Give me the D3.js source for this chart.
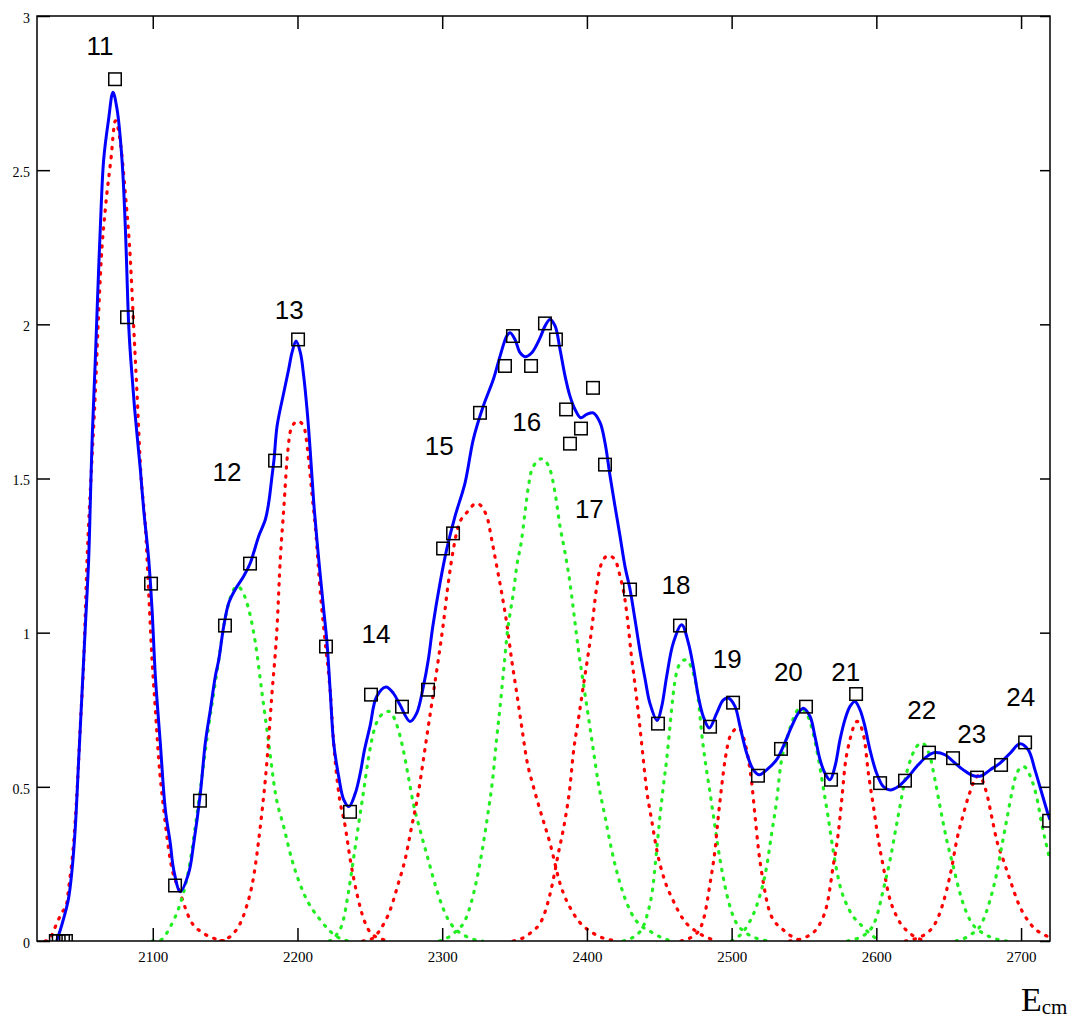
<!DOCTYPE html>
<html>
<head>
<meta charset="utf-8">
<script src="https://cdn.jsdelivr.net/npm/d3@7"></script>
<style>
  html, body { margin: 0; padding: 0; background: #fff; }
  svg { display: block; }
</style>
</head>
<body>
<div id="chart"></div>
<script>
// ---------------- data ----------------
const xTicks = [2100, 2200, 2300, 2400, 2500, 2600, 2700];
const yTicks = [0, 0.5, 1, 1.5, 2, 2.5, 3];
const yTickLabels = ["0", "0.5", "1", "1.5", "2", "2.5", "3"];
const xLabel = "E";
const xLabelSub = "cm";

// measured points (squares)
const dataE = [2033, 2035, 2038, 2040, 2073.9, 2082.2, 2098.8, 2115.4, 2132.6, 2149.9, 2167.2, 2184.5, 2200.4, 2219.7, 2236.3, 2250.8, 2272.2, 2290.2, 2300.6, 2307.5, 2326.1, 2343.4, 2348.9, 2361.4, 2371.0, 2378.6, 2385.6, 2388.3, 2395.9, 2404.2, 2412.5, 2429.8, 2449.1, 2464.3, 2485.1, 2501.0, 2518.2, 2534.1, 2551.4, 2568.7, 2586.0, 2602.6, 2619.8, 2636.4, 2653.0, 2669.6, 2686.2, 2702.8, 2719.4];
const dataV = [0, 0, 0, 0, 2.795, 2.023, 1.159, 0.18, 0.455, 1.023, 1.224, 1.558, 1.951, 0.955, 0.419, 0.799, 0.760, 0.815, 1.273, 1.322, 1.713, 1.865, 1.962, 1.865, 2.003, 1.951, 1.724, 1.613, 1.662, 1.794, 1.545, 1.14, 0.705, 1.023, 0.695, 0.773, 0.536, 0.623, 0.760, 0.523, 0.801, 0.512, 0.52, 0.611, 0.593, 0.53, 0.571, 0.644, 0.39];

// total fit (blue)
const totalFit = [
  [2033.6,0],[2037,0.05],[2041.6,0.133],[2044.2,0.23],[2046.5,0.371],[2048.8,0.588],[2051.1,0.804],[2053.4,1.02],[2055.7,1.237],[2057,1.45],[2058.2,1.64],[2060.3,1.886],[2062,2.104],[2063.8,2.319],[2066.1,2.536],[2069.5,2.666],[2072.5,2.753],[2075.3,2.698],[2078.7,2.536],[2081,2.319],[2083.4,1.994],[2084.8,1.886],[2087.5,1.724],[2091.4,1.53],[2093.7,1.4],[2097.2,1.237],[2099.5,1.075],[2101.8,0.858],[2105.2,0.642],[2108.7,0.425],[2112.1,0.317],[2114.5,0.23],[2119,0.16],[2124.8,0.22],[2128.3,0.317],[2132.9,0.48],[2136.3,0.642],[2139.8,0.75],[2143.2,0.858],[2145.6,0.912],[2149,1.02],[2152.5,1.096],[2157,1.14],[2162.8,1.183],[2167.4,1.226],[2169.7,1.259],[2173.2,1.313],[2177.8,1.367],[2180.1,1.421],[2182.4,1.508],[2183.8,1.562],[2185.9,1.67],[2190.5,1.778],[2193.9,1.854],[2196.2,1.908],[2199,1.946],[2202,1.908],[2204.3,1.832],[2206.6,1.724],[2208.4,1.616],[2210,1.507],[2211.6,1.4],[2214.7,1.237],[2218.1,1.075],[2220.4,0.967],[2222.7,0.804],[2225,0.642],[2228.5,0.533],[2232,0.458],[2235.6,0.436],[2240,0.48],[2243.4,0.545],[2246.3,0.62],[2250.1,0.696],[2254.7,0.793],[2261.2,0.824],[2266.2,0.804],[2270.8,0.766],[2277.8,0.712],[2282.4,0.739],[2287,0.826],[2290.4,0.912],[2293.5,1.02],[2298.5,1.161],[2303.1,1.27],[2308.9,1.378],[2315.8,1.486],[2321.5,1.627],[2328.4,1.735],[2335.3,1.821],[2340,1.897],[2344.6,1.962],[2346.9,1.973],[2350.3,1.951],[2353.8,1.908],[2357.2,1.895],[2361.9,1.908],[2367.6,1.956],[2371.1,1.995],[2374.5,2.016],[2378,1.995],[2381.4,1.919],[2384.9,1.832],[2388.3,1.767],[2391.8,1.724],[2395.7,1.697],[2399.8,1.708],[2404.4,1.713],[2409.1,1.681],[2412.5,1.616],[2416,1.508],[2419.4,1.41],[2422.9,1.313],[2426.3,1.215],[2429.8,1.14],[2433.3,1.04],[2436.7,0.94],[2440.2,0.85],[2443.6,0.77],[2448.5,0.715],[2451.7,0.761],[2455.1,0.858],[2459.7,0.967],[2465.5,1.026],[2470.1,0.967],[2473.5,0.89],[2477,0.793],[2480.4,0.728],[2484.6,0.691],[2489.7,0.739],[2494.3,0.782],[2497.7,0.788],[2502.3,0.761],[2505.8,0.696],[2510.4,0.609],[2515,0.555],[2519.1,0.539],[2524.2,0.555],[2531.1,0.588],[2535.7,0.631],[2541.5,0.696],[2546.1,0.739],[2549.6,0.755],[2554.2,0.728],[2557.6,0.663],[2561.1,0.588],[2564.5,0.544],[2568,0.523],[2571.4,0.566],[2574.9,0.653],[2578.3,0.718],[2581.8,0.761],[2585.2,0.777],[2588.7,0.75],[2592.1,0.696],[2595.6,0.62],[2600.2,0.544],[2604.8,0.501],[2609.5,0.49],[2615.2,0.501],[2622.1,0.533],[2627.9,0.566],[2634.8,0.598],[2640.5,0.611],[2647.4,0.604],[2653.2,0.582],[2660.1,0.555],[2667,0.536],[2672.8,0.536],[2678.6,0.555],[2685.5,0.577],[2692.4,0.609],[2699.3,0.64],[2705,0.62],[2709.6,0.555],[2714.3,0.48],[2718.8,0.409],[2720,0.393]
];

// individual resonance components (alternating red / green)
const res11 = [[2025.5,0],[2027.8,0.003],[2031.3,0.03],[2033.6,0.057],[2037,0.09],[2040.5,0.122],[2042,0.176],[2045.3,0.317],[2047.6,0.48],[2049.9,0.696],[2052.3,0.912],[2054.6,1.237],[2057.5,1.52],[2060.3,1.778],[2062.2,1.994],[2064.4,2.211],[2067.2,2.373],[2071.1,2.536],[2074.1,2.66],[2077.6,2.59],[2081,2.427],[2084.5,2.211],[2086.8,1.994],[2089.1,1.778],[2091.9,1.507],[2094.9,1.345],[2097.2,1.129],[2099.5,0.912],[2101.8,0.75],[2104.1,0.588],[2107.6,0.425],[2112.1,0.263],[2119,0.155],[2125.9,0.068],[2135.2,0.025],[2146.7,0.003],[2150,0]];
const res12 = [[2099.5,0],[2105.2,0.003],[2112.1,0.046],[2119,0.122],[2124.8,0.23],[2129.4,0.371],[2134,0.533],[2138.6,0.696],[2142.1,0.804],[2145.6,0.912],[2149,1.02],[2152.5,1.096],[2158.2,1.15],[2165.1,1.096],[2170.9,0.967],[2175.5,0.804],[2180.1,0.642],[2184.7,0.48],[2190.5,0.37],[2196.2,0.263],[2204.3,0.155],[2215.8,0.068],[2227.3,0.014],[2235,0]];
const res13 = [[2146.7,0],[2155.9,0.025],[2164,0.1],[2169.7,0.209],[2174.3,0.371],[2179,0.588],[2182.4,0.804],[2185.9,1.02],[2188.1,1.237],[2190.5,1.4],[2192.8,1.562],[2195.5,1.66],[2200.1,1.686],[2204.3,1.67],[2207.7,1.562],[2210,1.45],[2212.3,1.345],[2215.8,1.129],[2219.2,0.967],[2222.7,0.804],[2225,0.642],[2228.5,0.48],[2233,0.371],[2236.5,0.263],[2241,0.155],[2246,0.068],[2252,0.02],[2264,0]];
const res14 = [[2222,0],[2227,0.02],[2231.7,0.068],[2235.1,0.155],[2238.6,0.263],[2242,0.371],[2245.5,0.48],[2248.9,0.588],[2252.4,0.674],[2257,0.728],[2262.8,0.745],[2269.7,0.685],[2273.1,0.62],[2276.6,0.533],[2280,0.447],[2284.7,0.36],[2290.4,0.263],[2296.2,0.166],[2303.1,0.079],[2316.9,0.014],[2328,0]];
const res15 = [[2245,0],[2252.4,0.01],[2257,0.036],[2264,0.1],[2269.7,0.187],[2274.3,0.263],[2278.9,0.371],[2283.5,0.48],[2287,0.588],[2290.4,0.696],[2293.9,0.804],[2297.3,0.912],[2300.8,1.03],[2304.2,1.161],[2307.7,1.27],[2311.1,1.345],[2316.9,1.389],[2323.8,1.419],[2330.8,1.378],[2334.2,1.302],[2337.7,1.215],[2341.1,1.129],[2344.6,1.03],[2348,0.912],[2351.5,0.804],[2354.9,0.696],[2358.4,0.588],[2363,0.501],[2367.6,0.425],[2374.5,0.317],[2381.4,0.187],[2390.6,0.09],[2404.4,0.025],[2420.6,0]];
const res16 = [[2298,0],[2308,0.025],[2317,0.08],[2323,0.18],[2327.5,0.29],[2331.5,0.41],[2335,0.53],[2337.5,0.65],[2340,0.76],[2342.5,0.88],[2345,1.0],[2347.5,1.08],[2349.2,1.129],[2351.5,1.215],[2354.9,1.302],[2357.2,1.389],[2359.6,1.475],[2361.9,1.529],[2368.8,1.564],[2374.5,1.529],[2378,1.453],[2381.4,1.345],[2384.9,1.259],[2388.3,1.161],[2391.8,1.031],[2394.1,0.945],[2397.5,0.837],[2401,0.728],[2404.4,0.62],[2407.9,0.512],[2412.5,0.404],[2417.1,0.295],[2422.9,0.187],[2432.1,0.079],[2445.9,0.025],[2458,0]];
const res17 = [[2349,0],[2360.7,0.025],[2369.9,0.079],[2375.7,0.176],[2380.3,0.285],[2384.9,0.393],[2388.3,0.501],[2390.6,0.609],[2394.1,0.718],[2397.5,0.826],[2401,0.934],[2403.8,1.03],[2405.6,1.107],[2407.9,1.183],[2410.2,1.226],[2414.8,1.25],[2419.4,1.237],[2422.9,1.183],[2426.3,1.107],[2428.6,1.02],[2430.5,0.934],[2433,0.84],[2436,0.72],[2438.5,0.61],[2441,0.5],[2444.8,0.39],[2448.5,0.29],[2453.5,0.2],[2459.7,0.13],[2466.6,0.07],[2475.9,0.03],[2490,0]];
const res18 = [[2425,0],[2436.7,0.03],[2441.3,0.079],[2445.9,0.187],[2448.2,0.295],[2450.5,0.404],[2452.8,0.501],[2455.1,0.588],[2457.4,0.696],[2459.7,0.804],[2463.2,0.89],[2468,0.912],[2473.5,0.869],[2477,0.782],[2479.3,0.674],[2481.6,0.588],[2485.1,0.48],[2488.5,0.371],[2492,0.263],[2495.5,0.176],[2501.2,0.079],[2510.4,0.025],[2525,0]];
const res19 = [[2465,0],[2475.9,0.025],[2481.6,0.09],[2485.1,0.187],[2488.5,0.295],[2490.8,0.404],[2493.1,0.501],[2495.5,0.588],[2498.9,0.663],[2504.6,0.691],[2509.3,0.642],[2511.6,0.588],[2513.9,0.512],[2516.2,0.404],[2518.6,0.295],[2522,0.187],[2526.6,0.09],[2535.7,0.036],[2548,0]];
const res20 = [[2500,0],[2510.4,0.046],[2518.6,0.133],[2524.2,0.241],[2527.7,0.35],[2531.2,0.458],[2533.8,0.566],[2538.1,0.653],[2541.5,0.707],[2547.3,0.755],[2552.8,0.728],[2556.3,0.674],[2559.7,0.598],[2563.2,0.501],[2566.6,0.404],[2570.1,0.295],[2574.5,0.187],[2581.4,0.1],[2590.7,0.046],[2602,0]];
const res21 = [[2540,0],[2551.9,0.014],[2561.1,0.057],[2566.6,0.133],[2570.1,0.241],[2573.7,0.35],[2576.1,0.458],[2578.3,0.566],[2581.8,0.653],[2586.7,0.712],[2591.5,0.66],[2594.5,0.544],[2598,0.436],[2601.4,0.328],[2604.8,0.241],[2608.3,0.155],[2614.1,0.079],[2623.2,0.025],[2635,0]];
const res22 = [[2580,0],[2593.3,0.025],[2600.2,0.079],[2604.8,0.166],[2609.5,0.263],[2612.9,0.35],[2616.3,0.436],[2619.8,0.523],[2624.4,0.598],[2631.3,0.642],[2637.1,0.598],[2640.5,0.523],[2644,0.436],[2648.6,0.328],[2653.2,0.241],[2657.8,0.155],[2664.7,0.068],[2676.2,0.019],[2690,0]];
const res23 = [[2620,0],[2634.8,0.025],[2642.9,0.079],[2648.6,0.166],[2652.2,0.241],[2655.6,0.328],[2659.1,0.393],[2663.7,0.469],[2670.6,0.536],[2676.2,0.48],[2679.7,0.404],[2683.1,0.328],[2687.7,0.263],[2692.4,0.198],[2698.2,0.122],[2706.2,0.057],[2717.8,0.016],[2720,0.012]];
const res24 = [[2655,0],[2664.7,0.019],[2672.8,0.057],[2678.6,0.133],[2683.2,0.22],[2686.6,0.306],[2690.1,0.393],[2693.6,0.48],[2697,0.544],[2701.6,0.566],[2707.3,0.523],[2710.7,0.469],[2714.2,0.382],[2718.8,0.285],[2720,0.26]];

const resonances = [res11, res12, res13, res14, res15, res16, res17, res18, res19, res20, res21, res22, res23, res24];

// peak labels (numbers) and their anchor in data coordinates
const peakNames = ["11","12","13","14","15","16","17","18","19","20","21","22","23","24"];
const peakLabelE = [2063.5, 2151.3, 2194.3, 2254.3, 2298, 2358.4, 2401.7, 2461.6, 2497, 2539.2, 2578.8, 2631.3, 2665.9, 2699.8];
const peakLabelV = [2.904, 1.523, 2.049, 0.997, 1.605, 1.686, 1.402, 1.156, 0.915, 0.874, 0.874, 0.75, 0.672, 0.793];

// ---------------- drawing ----------------
const W = 1076, H = 1021;
const M = { left: 37, top: 16, right: 26, bottom: 80 };
const innerW = W - M.left - M.right;   // 1013
const innerH = H - M.top - M.bottom;   // 925

const x = d3.scaleLinear().domain([2020, 2720]).range([0, innerW]);
const y = d3.scaleLinear().domain([0, 3]).range([innerH, 0]);

const svg = d3.select("#chart").append("svg")
  .attr("width", W).attr("height", H);

const g = svg.append("g").attr("transform", `translate(${M.left},${M.top})`);

g.append("defs").append("clipPath").attr("id", "plotclip")
  .append("rect").attr("x", 0).attr("y", 0).attr("width", innerW).attr("height", innerH);

const plot = g.append("g").attr("clip-path", "url(#plotclip)");

const line = d3.line()
  .x(d => x(d[0])).y(d => y(d[1]))
  .curve(d3.curveMonotoneX);

plot.selectAll("path.res")
  .data(resonances)
  .join("path")
  .attr("class", "res")
  .attr("d", line)
  .attr("fill", "none")
  .attr("stroke", (d, i) => i % 2 === 0 ? "#ff0000" : "#22ee22")
  .attr("stroke-width", 3.2)
  .attr("stroke-linecap", "round")
  .attr("stroke-dasharray", "1.4 7.6");

plot.append("path")
  .datum(totalFit)
  .attr("d", line.curve(d3.curveCatmullRom.alpha(0.5)))
  .attr("fill", "none")
  .attr("stroke", "#0000ff")
  .attr("stroke-width", 3)
  .attr("stroke-linejoin", "round");

const sq = 12.5;
plot.selectAll("rect.pt")
  .data(dataE.map((e, i) => [e, dataV[i]]))
  .join("rect")
  .attr("class", "pt")
  .attr("x", d => x(d[0]) - sq / 2)
  .attr("y", d => y(d[1]) - sq / 2)
  .attr("width", sq).attr("height", sq)
  .attr("fill", "none")
  .attr("stroke", "#000")
  .attr("stroke-width", 1.5);

// axes
const axisStyle = sel => {
  sel.select(".domain").remove();
  sel.selectAll(".tick line").attr("stroke", "#000").attr("stroke-width", 1.5);
  sel.selectAll(".tick text").attr("fill", "#000");
};

g.append("g")
  .attr("transform", `translate(0,${innerH})`)
  .call(d3.axisBottom(x).tickValues(xTicks).tickFormat(d3.format("d")).tickSize(-13).tickPadding(10))
  .call(axisStyle)
  .call(s => s.selectAll(".tick text").attr("font-family", "'Liberation Serif', 'Times New Roman', serif").attr("font-size", 15));

g.append("g")
  .call(d3.axisTop(x).tickValues(xTicks).tickFormat("").tickSize(-13))
  .call(axisStyle);

g.append("g")
  .call(d3.axisLeft(y).tickValues(yTicks).tickFormat((d, i) => yTickLabels[i]).tickSize(-13).tickPadding(7))
  .call(axisStyle)
  .call(s => s.selectAll(".tick text").attr("font-family", "'Liberation Serif', 'Times New Roman', serif").attr("font-size", 14).attr("dy", "0.45em"));

g.append("g")
  .attr("transform", `translate(${innerW},0)`)
  .call(d3.axisRight(y).tickValues(yTicks).tickFormat("").tickSize(-10))
  .call(axisStyle);

// frame
g.append("rect")
  .attr("x", 0).attr("y", 0).attr("width", innerW).attr("height", innerH)
  .attr("fill", "none").attr("stroke", "#000").attr("stroke-width", 1.5);

// peak labels
g.selectAll("text.peak")
  .data(peakNames)
  .join("text")
  .attr("class", "peak")
  .attr("x", (d, i) => x(peakLabelE[i]))
  .attr("y", (d, i) => y(peakLabelV[i]))
  .attr("dy", "0.36em")
  .attr("text-anchor", "middle")
  .attr("font-family", "'Liberation Sans', Arial, sans-serif")
  .attr("font-size", 26)
  .attr("fill", "#000")
  .text(d => d);

// x-axis title E_cm
const title = svg.append("text")
  .attr("x", 1021).attr("y", 1011)
  .attr("font-family", "'Liberation Serif', 'Times New Roman', serif")
  .attr("font-size", 34)
  .attr("fill", "#000");
title.append("tspan").text(xLabel);
title.append("tspan").attr("font-size", 21).attr("dy", 3).text(xLabelSub);
</script>
</body>
</html>
